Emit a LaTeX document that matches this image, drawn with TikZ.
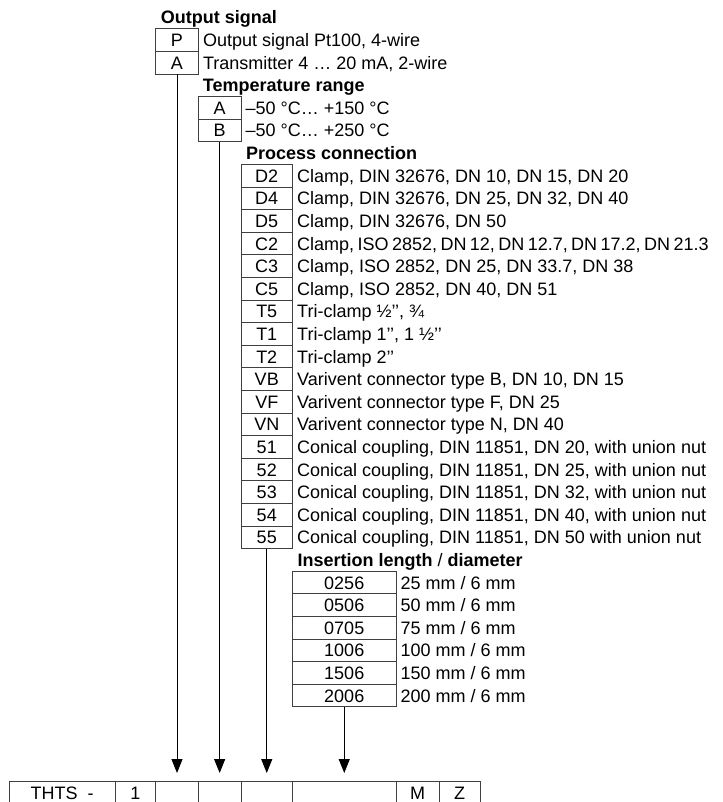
\documentclass[tikz,border=0pt]{standalone}
\usepackage{fontspec}
\setmainfont{Liberation Sans}
\usetikzlibrary{arrows.meta}
\begin{document}
\begin{tikzpicture}[x=1pt,y=1pt,
  cell/.style={draw=black!75, line width=0.9pt, minimum height=22.6pt, inner sep=0pt, outer sep=0pt,
    text height=13pt, text depth=0pt, anchor=north west, font=\fontsize{18}{20}\selectfont},
  desc/.style={anchor=west, inner sep=0pt, text height=13pt, text depth=0pt, font=\fontsize{18}{20}\selectfont},
  ttl/.style={anchor=west, inner sep=0pt, text height=13pt, text depth=0pt, font=\fontsize{18}{20}\selectfont\bfseries},
  arr/.style={line width=0.9pt, -{Triangle[width=11pt,length=14pt]}}
]
\useasboundingbox (0,0) rectangle (722,-802);
\clip (0,0) rectangle (722,-802);

% Output signal
\node[ttl] (t1) at (160.7,-17.5) {Output signal};
\node[cell, minimum width=42.6pt] (o1) at (155.7,-28.8) {P};
\node[desc] (od1) at ([xshift=4.5pt]o1.east) {Output signal Pt100, 4-wire};
\node[cell, minimum width=42.6pt] (o2) at (155.7,-51.4) {A};
\node[desc] (od2) at ([xshift=4.5pt]o2.east) {Transmitter 4 … 20 mA, 2-wire};

% Temperature range
\node[ttl] (t2) at (202.7,-85.3) {Temperature range};
\node[cell, minimum width=42.7pt] (r1) at (198.3,-96.6) {A};
\node[desc] (rd1) at ([xshift=4.5pt]r1.east) {–50 °C… +150 °C};
\node[cell, minimum width=42.7pt] (r2) at (198.3,-119.2) {B};
\node[desc] (rd2) at ([xshift=4.5pt]r2.east) {–50 °C… +250 °C};

% Process connection
\node[ttl] (t3) at (246,-153.1) {Process connection};
\foreach \c/\d [count=\i from 7] in {
  D2/{Clamp, DIN 32676, DN 10, DN 15, DN 20},
  D4/{Clamp, DIN 32676, DN 25, DN 32, DN 40},
  D5/{Clamp, DIN 32676, DN 50},
  C2/{\spaceskip=0.19em Clamp, ISO 2852, DN 12, DN 12.7, DN 17.2, DN 21.3},
  C3/{Clamp, ISO 2852, DN 25, DN 33.7, DN 38},
  C5/{Clamp, ISO 2852, DN 40, DN 51},
  T5/{Tri-clamp ½’’, ¾},
  T1/{Tri-clamp 1’’, 1 ½’’},
  T2/{Tri-clamp 2’’},
  VB/{Varivent connector type B, DN 10, DN 15},
  VF/{Varivent connector type F, DN 25},
  VN/{Varivent connector type N, DN 40},
  51/{Conical coupling, DIN 11851, DN 20, with union nut},
  52/{Conical coupling, DIN 11851, DN 25, with union nut},
  53/{Conical coupling, DIN 11851, DN 32, with union nut},
  54/{Conical coupling, DIN 11851, DN 40, with union nut},
  55/{Conical coupling, DIN 11851, DN 50 with union nut}}
{
  \node[cell, minimum width=51.5pt] (p\i) at (241,{-(6.2+22.6*\i)}) {\c};
  \node[desc] (pd\i) at ([xshift=4.5pt]p\i.east) {\d};
}

% Insertion length
\node[ttl] (t4) at (297.5,-559.9) {Insertion length {\mdseries /} diameter};
\foreach \c/\d [count=\i from 25] in {
  0256/{25 mm / 6 mm},
  0506/{50 mm / 6 mm},
  0705/{75 mm / 6 mm},
  1006/{100 mm / 6 mm},
  1506/{150 mm / 6 mm},
  2006/{200 mm / 6 mm}}
{
  \node[cell, minimum width=103.5pt] (q\i) at (292.5,{-(6.2+22.6*\i)}) {\c};
  \node[desc] (qd\i) at ([xshift=4.5pt]q\i.east) {\d};
}

% Bottom type code
\node[cell, minimum width=105.7pt] (b1) at (9.3,-781.7) {THTS\ \ -};
\node[cell, minimum width=40.7pt] (b2) at (115,-781.7) {1};
\node[cell, minimum width=42.6pt] (b3) at (155.7,-781.7) {};
\node[cell, minimum width=42.7pt] (b4) at (198.3,-781.7) {};
\node[cell, minimum width=51.5pt] (b5) at (241,-781.7) {};
\node[cell, minimum width=103.5pt] (b6) at (292.5,-781.7) {};
\node[cell, minimum width=43.3pt] (b7) at (396,-781.7) {M};
\node[cell, minimum width=40.7pt] (b8) at (439.3,-781.7) {Z};

% Arrows
\draw[arr] (o2.south) -- ([yshift=8.7pt]b3.north);
\draw[arr] (r2.south) -- ([yshift=8.7pt]b4.north);
\draw[arr] (p23.south) -- ([yshift=8.7pt]b5.north);
\draw[arr] (q30.south) -- ([yshift=8.7pt]b6.north);
\end{tikzpicture}
\end{document}
